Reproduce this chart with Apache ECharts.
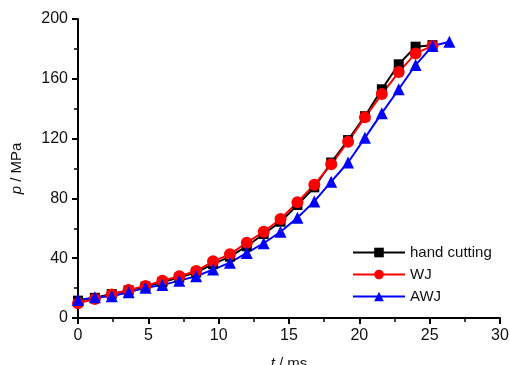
<!DOCTYPE html>
<html>
<head>
<meta charset="utf-8">
<script src="https://cdn.jsdelivr.net/npm/echarts@6/dist/echarts.min.js"></script>
<style>
  html, body { margin: 0; padding: 0; background: #fff; }
  #chart { width: 510px; height: 365px; }
</style>
</head>
<body>
<div id="chart"></div>
<script>
// time points (ms)
const times = [0, 1.2, 2.4, 3.6, 4.8, 6.0, 7.2, 8.4, 9.6, 10.8, 12.0, 13.2, 14.4, 15.6, 16.8, 18.0, 19.2, 20.4, 21.6, 22.8, 24.0, 25.2, 26.4];

// pressure (MPa)
const handCutting = [11.6, 13.5, 16.0, 18.5, 21.0, 24.0, 27.0, 30.5, 36.0, 41.0, 48.0, 56.2, 64.4, 75.6, 87.4, 104.0, 119.0, 135.0, 153.0, 169.7, 181.5, 182.5];
const wj = [9.8, 12.7, 15.8, 18.7, 21.4, 25.0, 27.9, 31.4, 37.9, 42.6, 50.4, 57.7, 66.2, 77.4, 89.2, 102.8, 117.9, 134.2, 149.8, 164.5, 177.0, 182.0];
const awj = [12.0, 13.8, 14.5, 17.2, 20.3, 22.0, 25.0, 27.9, 32.4, 37.0, 43.5, 50.0, 57.7, 67.1, 78.0, 91.2, 104.0, 120.5, 137.0, 153.0, 169.2, 182.0, 184.8];

const xTicks = [0, 5, 10, 15, 20, 25, 30];
const yTicks = [0, 40, 80, 120, 160, 200];

const pairs = (vals) => vals.map((v, i) => [times[i], v]);

const chart = echarts.init(document.getElementById('chart'));

const font = 'Liberation Sans, Arial, sans-serif';

const axisCommon = {
  type: 'value',
  axisLine: { show: true, lineStyle: { color: '#000', width: 2 } },
  axisTick: { show: true, inside: false, length: 6, lineStyle: { color: '#000', width: 2 } },
  minorTick: { show: true, splitNumber: 2, length: 4, lineStyle: { color: '#000', width: 1.5 } },
  splitLine: { show: false },
  axisLabel: { color: '#111', fontSize: 16, fontFamily: font, margin: 10 },
  nameLocation: 'middle',
  nameTextStyle: {
    color: '#111', fontSize: 15, fontFamily: font,
    rich: { i: { fontStyle: 'italic', fontSize: 15, fontFamily: font, color: '#111' } }
  }
};

const mkSeries = (name, vals, color, symbol, size) => ({
  name,
  type: 'line',
  data: pairs(vals),
  symbol,
  symbolSize: size,
  showSymbol: true,
  lineStyle: { color, width: 2 },
  itemStyle: { color }
});

chart.setOption({
  backgroundColor: '#fff',
  animation: false,
  grid: { left: 78, top: 19, width: 422, height: 299, outerBoundsMode: 'none', containLabel: false },
  xAxis: Object.assign({}, axisCommon, {
    min: xTicks[0], max: xTicks[xTicks.length - 1], interval: 5,
    name: '{i|t} / ms', nameGap: 38
  }),
  yAxis: Object.assign({}, axisCommon, {
    min: yTicks[0], max: yTicks[yTicks.length - 1], interval: 40,
    name: '{i|p} / MPa', nameGap: 54
  }),
  legend: {
    orient: 'vertical',
    left: 347, top: 240,
    itemWidth: 52, itemHeight: 12, itemGap: 7,
    textStyle: { color: '#111', fontSize: 15, fontFamily: font },
    data: ['hand cutting', 'WJ', 'AWJ']
  },
  series: [
    mkSeries('hand cutting', handCutting, '#000000', 'rect', 10),
    mkSeries('WJ', wj, '#ff0000', 'circle', 12),
    mkSeries('AWJ', awj, '#0000ff', 'triangle', 12)
  ]
});
</script>
</body>
</html>
